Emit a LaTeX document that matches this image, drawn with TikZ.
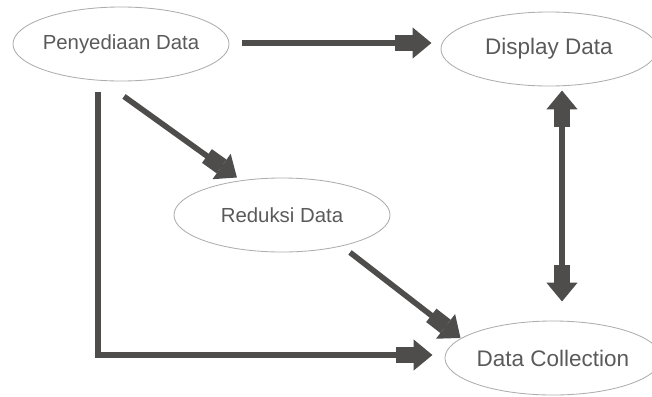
\documentclass[tikz,border=0pt]{standalone}
\usepackage{fontspec}
\setmainfont{Liberation Sans}
\usetikzlibrary{arrows.meta,shapes.geometric,calc}
\definecolor{dg}{HTML}{4F4C4C}
\definecolor{tg}{HTML}{5A5A5A}
\tikzset{
    step box/.style = {ellipse,
                    fill=none,
                    draw=black!32,
                    text=tg,
                    line width=0.6pt,
                    inner xsep=-0.5cm,
                    minimum width=5.4cm,
                    minimum height=1.85cm},
    small/.style =  {font=\fontsize{14.5}{17}\selectfont},
    big/.style =    {font=\fontsize{16}{19}\selectfont},
    flow/.style =   {draw=dg,
                    line width=4pt,
                    -{Rectangle[length=12.8pt,width=12pt,sep=0pt]Triangle[length=13.5pt,width=21.3pt,sep=0pt]}},
    both/.style =   {flow,
                    {Triangle[length=13.5pt,width=21.3pt,sep=0pt]Rectangle[length=12.8pt,width=12pt,sep=0pt]}-{Rectangle[length=12.8pt,width=12pt,sep=0pt]Triangle[length=13.5pt,width=21.3pt,sep=0pt]}}}

\begin{document}
\begin{tikzpicture}[x=0.025cm,y=-0.025cm]
                \clip (0,0) rectangle (652,396);
                \node[step box,small]   (PD) at (121,44)  {Penyediaan Data};
                \node[step box,big]     (DD) at (549,49)  {Display Data};
                \node[step box,small]   (RD) at (282,215) {Reduksi Data};
                \node[step box,big]     (DC) at (553,358) {Data Collection};

                \draw[flow] ($(PD.east)+(13,-1)$) -- ($(DD.west)+(-9,-6)$);
                \draw[flow] ($(PD.south)+(3,15)$) -- ($(RD.north)+(-45,0)$);
                \draw[flow,line join=miter] ($(PD.south)+(-23,11)$) |- ($(DC.west)+(-12,-3)$);
                \draw[flow] ($(RD.south)+(68,0)$) -- ($(DC.west)+(16,-20)$);
                \draw[both] ($(DD.south)+(13,4)$) -- ($(DC.north)+(9,-19)$);
\end{tikzpicture}
\end{document}
